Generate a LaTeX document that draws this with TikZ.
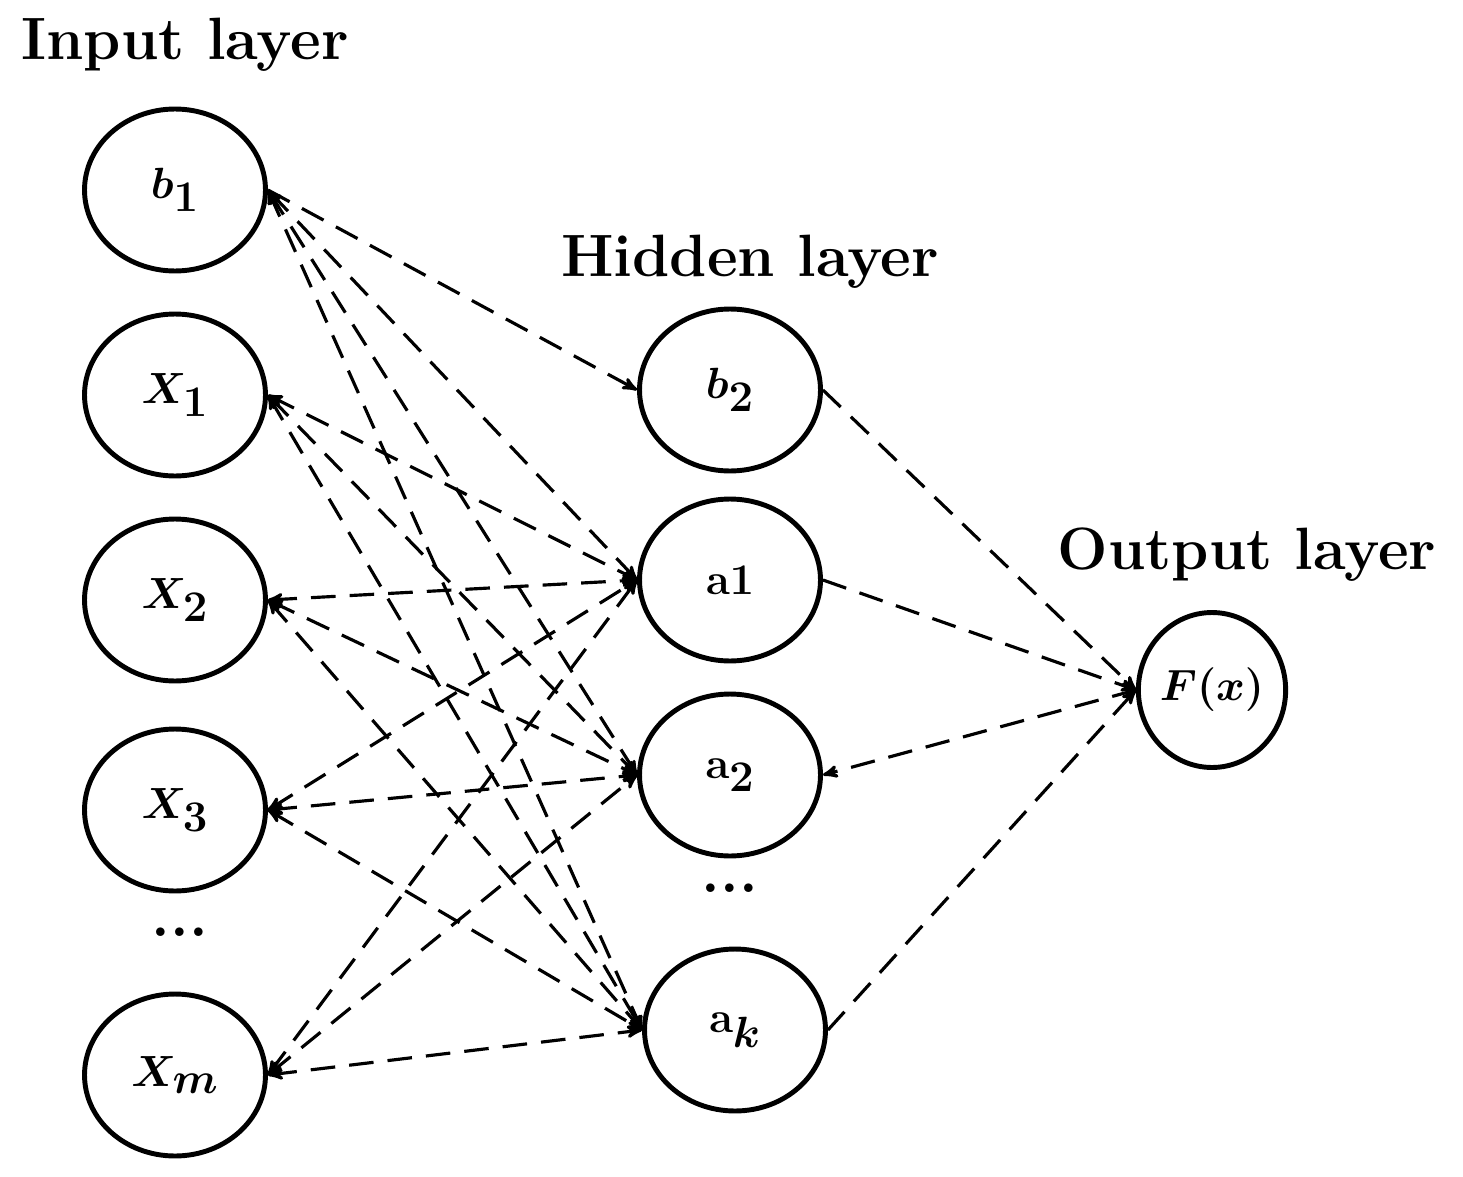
\documentclass[tikz,border=0pt]{standalone}
\usepackage{tikz}
\usetikzlibrary{arrows,shapes,positioning}
\tikzstyle{neuron}=[draw,ellipse,line width=2.8pt,minimum width=3.62cm,minimum height=3.24cm,inner sep=0,font=\fontsize{42}{48}\selectfont\boldmath]
\tikzstyle{outn}=[neuron,minimum width=2.8cm,minimum height=3.1cm,font=\fontsize{38}{44}\selectfont\boldmath]
\tikzstyle{title}=[font=\fontsize{34}{40}\selectfont\bfseries]
\tikzstyle{link}=[densely dashed,dash pattern=on 14pt off 8pt,line width=1.8pt]
\tikzstyle{both}=[link,<->,>=stealth']
\tikzstyle{fwd}=[link,->,>=stealth']
\begin{document}
\begin{tikzpicture}[x=0.02cm,y=-0.02cm]
\useasboundingbox (0,0) rectangle (1463,1176);

\node[title] (tin) at (185,45) {Input layer};
\node[title] (thid) at (750,262) {Hidden layer};
\node[title] (tout) at (1247,555) {Output layer};

\node[neuron] (b1) at (175,190) {$b_1$};
\node[neuron] (x1) at (175,395) {$X_1$};
\node[neuron] (x2) at (175,600) {$X_2$};
\node[neuron] (x3) at (175,810) {$X_3$};
\node[font=\fontsize{34}{40}\selectfont\bfseries] (din) at (180,932) {...};
\node[neuron] (xm) at (175,1075) {$X_m$};

\node[neuron] (b2) at (730,390) {$b_2$};
\node[neuron] (a1) at (730,580) {$\mathbf{a1}$};
\node[neuron] (a2) at (730,775) {$\mathbf{a}_2$};
\node[font=\fontsize{34}{40}\selectfont\bfseries] (dhid) at (730,888) {...};
\node[neuron] (ak) at (735,1030) {$\mathbf{a}_k$};

\node[outn] (f) at (1212,690) {$F(x)$};

\draw[fwd] (b1.east) -- (b2.west);
\foreach \i in {b1,x1,x2,x3,xm}
  \foreach \h in {a1,a2,ak}
    \draw[both] (\i.east) -- (\h.west);
\draw[fwd] (b2.east) -- (f.west);
\draw[fwd] (a1.east) -- (f.west);
\draw[fwd] (f.west) -- (a2.east);
\draw[fwd] (ak.east) -- (f.west);
\end{tikzpicture}
\end{document}
